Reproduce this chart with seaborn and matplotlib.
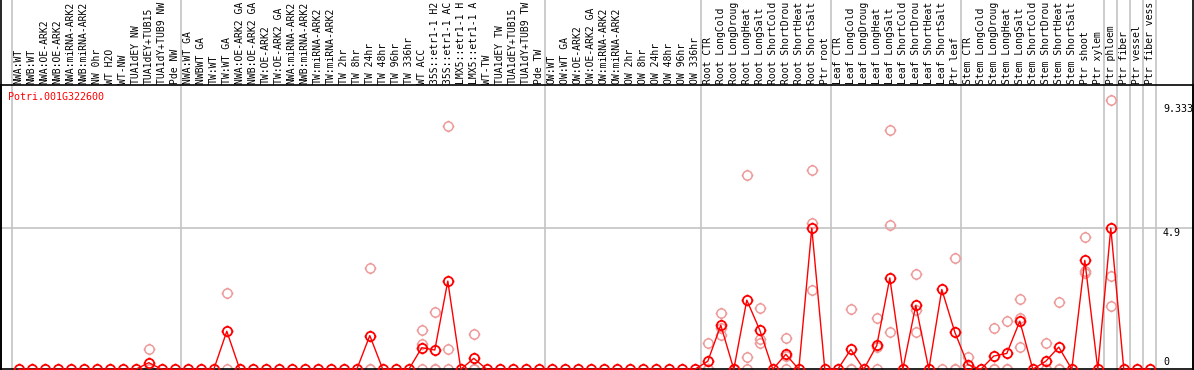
import numpy as np
import pandas as pd
import matplotlib
matplotlib.use("Agg")
import matplotlib.pyplot as plt
import seaborn as sns
from matplotlib.path import Path

gene = "Potri.001G322600"

nw_labels = ["NWA:WT", "NWB:WT", "NWA:OE-ARK2", "NWB:OE-ARK2", "NWA:miRNA-ARK2", "NWB:miRNA-ARK2",
             "NW 0hr", "WT H2O", "WT-NW", "TUA1dEY NW", "TUA1dEY+TUB15 NW", "TUA1dY+TUB9 NW", "Pde NW"]
tw_labels = ["NWA:WT GA", "NWBWT GA", "TW:WT", "TW:WT GA", "NWA:OE-ARK2 GA", "NWB:OE-ARK2 GA",
             "TW:OE-ARK2", "TW:OE-ARK2 GA", "NWA:miRNA-ARK2 GA", "NWB:miRNA-ARK2 GA", "TW:miRNA-ARK2",
             "TW:miRNA-ARK2 GA", "TW 2hr", "TW 8hr", "TW 24hr", "TW 48hr", "TW 96hr", "TW 336hr", "WT ACC",
             "35S::etr1-1 H2O", "35S::etr1-1 ACC", "LMX5::etr1-1 H2O", "LMX5::etr1-1 ACC", "WT-TW",
             "TUA1dEY TW", "TUA1dEY+TUB15 TW", "TUA1dY+TUB9 TW", "Pde TW"]
ow_labels = ["OW:WT", "OW:WT GA", "OW:OE-ARK2", "OW:OE-ARK2 GA", "OW:miRNA-ARK2", "OW:miRNA-ARK2 GA",
             "OW 2hr", "OW 8hr", "OW 24hr", "OW 48hr", "OW 96hr", "OW 336hr"]
root_labels = ["Root CTR", "Root LongCold", "Root LongDrought", "Root LongHeat", "Root LongSalt",
               "Root ShortCold", "Root ShortDrought", "Root ShortHeat", "Root ShortSalt", "Ptr root"]
leaf_labels = ["Leaf CTR", "Leaf LongCold", "Leaf LongDrought", "Leaf LongHeat", "Leaf LongSalt",
               "Leaf ShortCold", "Leaf ShortDrought", "Leaf ShortHeat", "Leaf ShortSalt", "Ptr leaf"]
stem_labels = ["Stem CTR", "Stem LongCold", "Stem LongDrought", "Stem LongHeat", "Stem LongSalt",
               "Stem ShortCold", "Stem ShortDrought", "Stem ShortHeat", "Stem ShortSalt", "Ptr shoot", "Ptr xylem"]
ptr_labels = ["Ptr phloem", "Ptr fiber", "Ptr vessel", "Ptr fiber vessel"]

# mean expression per sample
nw_mean = [0, 0, 0, 0, 0, 0, 0, 0, 0, 0, 0.23, 0, 0]
tw_mean = [0, 0, 0, 1.32, 0, 0, 0, 0, 0, 0, 0, 0, 0, 0, 1.17, 0, 0, 0, 0.75, 0.67, 3.06, 0, 0.38, 0, 0, 0, 0, 0]
ow_mean = [0, 0, 0, 0, 0, 0, 0, 0, 0, 0, 0, 0]
root_mean = [0.28, 1.53, 0, 2.40, 1.36, 0, 0.52, 0, 4.9, 0]
leaf_mean = [0, 0.69, 0, 0.83, 3.17, 0, 2.22, 0, 2.77, 1.29]
stem_mean = [0.16, 0, 0.46, 0.55, 1.67, 0, 0.28, 0.77, 0, 3.78, 0]
ptr_mean = [4.9, 0, 0, 0]

# individual replicates (light circles)
replicates = {
    "TUA1dEY+TUB15 NW": [0.69, 0.0],
    "TW:WT GA": [2.65, 0.0],
    "TW 24hr": [3.51, 0.0, 0.0],
    "WT ACC": [1.35, 0.87, 0.0],
    "35S::etr1-1 H2O": [1.98, 0.0, 0.0],
    "35S::etr1-1 ACC": [8.43, 0.69, 0.0],
    "LMX5::etr1-1 ACC": [1.21, 0.0, 0.0],
    "Root CTR": [0.90, 0.0, 0.0],
    "Root LongCold": [1.94, 1.45, 1.19],
    "Root LongDrought": [0.0, 0.0],
    "Root LongHeat": [6.74, 0.42, 0.0],
    "Root LongSalt": [2.11, 1.04, 0.92],
    "Root ShortDrought": [1.09, 0.45, 0.0],
    "Root ShortSalt": [6.91, 5.08, 2.74],
    "Leaf LongCold": [2.09, 0.0, 0.0],
    "Leaf LongHeat": [1.77, 0.76, 0.0],
    "Leaf LongSalt": [8.32, 4.99, 1.28],
    "Leaf ShortDrought": [3.30, 2.06, 1.29],
    "Leaf ShortSalt": [0.0],
    "Ptr leaf": [3.85, 0.0, 0.0],
    "Stem CTR": [0.44, 0.0, 0.0],
    "Stem LongDrought": [1.42, 0.0, 0.0],
    "Stem LongHeat": [1.67, 0.0, 0.0],
    "Stem LongSalt": [2.43, 1.79, 0.77],
    "Stem ShortDrought": [0.90, 0.0, 0.0],
    "Stem ShortHeat": [2.32, 0.0, 0.0],
    "Ptr shoot": [4.58, 3.41, 3.35],
    "Ptr phloem": [9.333, 3.23, 2.18],
}

groups = [nw_labels, tw_labels, ow_labels, root_labels, leaf_labels, stem_labels] + [[p] for p in ptr_labels]
labels = sum(groups, [])
means = nw_mean + tw_mean + ow_mean + root_mean + leaf_mean + stem_mean + ptr_mean
pos = np.arange(len(labels))
df = pd.DataFrame({"pos": pos, "label": labels, "mean": means})
reps = pd.DataFrame([(labels.index(k), v) for k, vals in replicates.items() for v in vals], columns=["pos", "value"])

rep_max = reps.value.max()
mean_max = max(means)

# circle marker with little ticks
ticks = [Path([(dx, dy), (1.28 * dx, 1.28 * dy)], [Path.MOVETO, Path.LINETO]) for dx, dy in [(0, 1), (0, -1), (1, 0), (-1, 0)]]
ring = Path.make_compound_path(Path.unit_circle(), *ticks)

W, H = 1194, 370
fig = plt.figure(figsize=(W / 100, H / 100), dpi=100)
top_px, bot_px, left_px, right_px = 85, 369.3, 1, 1193
ax = fig.add_axes([left_px / W, (H - bot_px) / H, (right_px - left_px) / W, (bot_px - top_px) / H])
x0, step = 18.8, 13.0
ax.set_xlim((left_px - x0) / step, (right_px - x0) / step)
ax.set_ylim(0, rep_max * 1.057)
ax.set_xticks([])
ax.set_yticks([])
for s in ax.spines.values():
    s.set_color("black")
    s.set_linewidth(1.2)

ext = (bot_px) / (bot_px - top_px)
# group separators
edge = 0
for g in groups:
    ax.axvline(edge - 0.5, ymin=0, ymax=ext, color="#c4c4c4", lw=1.2, clip_on=False, zorder=1)
    edge += len(g)
ax.axvline(edge - 0.5, ymin=0, ymax=ext, color="#c4c4c4", lw=1.2, clip_on=False, zorder=1)
fig.add_artist(plt.Line2D([left_px / W] * 2, [0, 1], color="black", lw=1.2))
fig.add_artist(plt.Line2D([right_px / W] * 2, [0, 1], color="black", lw=1.2))

ax.axhline(mean_max, color="#c4c4c4", lw=1.2, zorder=1)

sns.lineplot(data=reps, x="pos", y="value", estimator=None, linestyle="", marker=ring, markersize=8.5,
             markerfacecolor="none", markeredgecolor="#ee9c9c", markeredgewidth=1.1, ax=ax, clip_on=False, zorder=2)
sns.lineplot(data=df, x="pos", y="mean", color="red", lw=1, marker=ring, markersize=8.5,
             markerfacecolor="none", markeredgecolor="red", markeredgewidth=1.3, ax=ax, clip_on=False, zorder=3)
ax.set_xlabel("")
ax.set_ylabel("")

# the header only has room for 14 characters per sample name
mono = "DejaVu Sans Mono"
for p, lab in zip(pos, labels):
    ax.text(p, 1.004, lab[:14].rstrip(), rotation=90, ha="center", va="bottom", fontsize=7.0, family=mono,
            transform=ax.get_xaxis_transform(), clip_on=False)

fig.text(8 / W, 1 - 97 / H, gene, color="red", ha="left", va="center", fontsize=7.2, family=mono)

xl = (1163 - left_px) / (right_px - left_px)
for val, off in [(rep_max, -9), (mean_max, -4.5), (0, 7)]:
    ax.annotate("%g" % round(val, 3), xy=(xl, val), xycoords=("axes fraction", "data"), xytext=(0, off),
                textcoords="offset pixels", ha="left", va="center", fontsize=7.2, family=mono)

fig.savefig("out.png", dpi=100)
